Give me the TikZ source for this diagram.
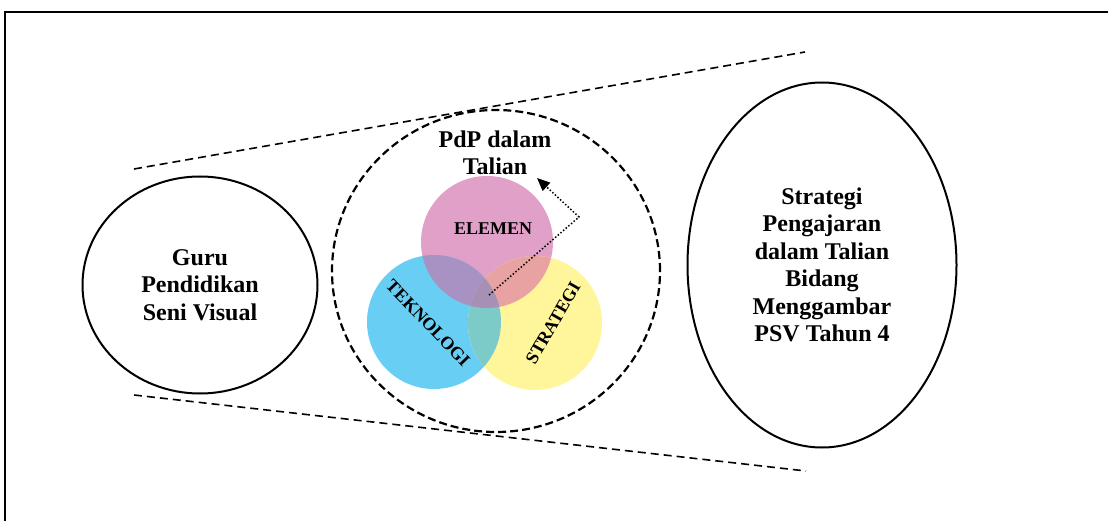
\documentclass[tikz,border=0pt]{standalone}
\usepackage{fontspec}
\setmainfont{Liberation Serif}
\usetikzlibrary{shapes.geometric,arrows.meta}
\definecolor{pk}{HTML}{E0A0C8}
\definecolor{bl}{HTML}{68CEF4}
\definecolor{ye}{HTML}{FFF59A}
\definecolor{pkbl}{HTML}{A892C4}
\definecolor{pkye}{HTML}{E8A2A2}
\definecolor{blye}{HTML}{7CCBC8}
\definecolor{all}{HTML}{A890B4}
\tikzset{
  bigell/.style={ellipse,draw,line width=2pt,align=center,font=\fontsize{24}{27.5}\selectfont\bfseries,inner sep=0pt},
  guide/.style={line width=1.6pt,dash pattern=on 8pt off 5pt},
  lbl/.style={font=\fontsize{18}{20}\selectfont\bfseries,inner sep=0pt},
  title/.style={align=center,font=\fontsize{24}{27}\selectfont\bfseries,inner sep=0pt}
}
\begin{document}
\begin{tikzpicture}[x=1pt,y=-1pt]
\useasboundingbox (0,0) rectangle (1108,521);
\draw[line width=2pt] (5,521) -- (5,12) -- (1108,12);
% dashed guide lines
\coordinate (t1) at (134,169);
\coordinate (t2) at (805,52);
\coordinate (b1) at (134,395);
\coordinate (b2) at (806,471);
\draw[guide] (t1) -- (t2);
\draw[guide] (b1) -- (b2);
% left and right ellipses
\node[bigell,minimum width=235pt,minimum height=217pt] (guru) at (200,285) {Guru\\Pendidikan\\Seni Visual};
\node[bigell,minimum width=269pt,minimum height=365pt] (strat) at (822,265) {Strategi\\Pengajaran\\dalam Talian\\Bidang\\Menggambar\\PSV Tahun 4};
% dashed circle
\node[ellipse,draw,line width=2.2pt,dash pattern=on 8pt off 4pt,minimum width=328pt,minimum height=322pt] (pdp) at (496,271) {};
\node[title] (pdpt) at (495,153) {PdP dalam\\Talian};
% venn circles
\coordinate (cp) at (487,242);
\coordinate (cb) at (434,322);
\coordinate (cy) at (535,323);
\fill[pk] (cp) circle (66pt);
\fill[bl] (cb) circle (67pt);
\fill[ye] (cy) circle (67pt);
\begin{scope}\clip (cp) circle (66pt); \fill[pkbl] (cb) circle (67pt); \end{scope}
\begin{scope}\clip (cp) circle (66pt); \fill[pkye] (cy) circle (67pt); \end{scope}
\begin{scope}\clip (cb) circle (67pt); \fill[blye] (cy) circle (67pt); \end{scope}
\begin{scope}\clip (cp) circle (66pt); \clip (cb) circle (67pt); \fill[all] (cy) circle (67pt); \end{scope}
\node[lbl] (el) at (493,229) {ELEMEN};
\node[lbl,rotate=-46] (tek) at (428,323) {TEKNOLOGI};
\node[lbl,rotate=60] (str) at (553,323) {STRATEGI};
% dotted arrow
\coordinate (a0) at (489,295);
\coordinate (a1) at (579,217);
\coordinate (a2) at (537,178);
\draw[line width=1.5pt,dotted,-{Triangle[length=13pt,width=11pt]}] (a0) -- (a1) -- (a2);
\end{tikzpicture}
\end{document}
